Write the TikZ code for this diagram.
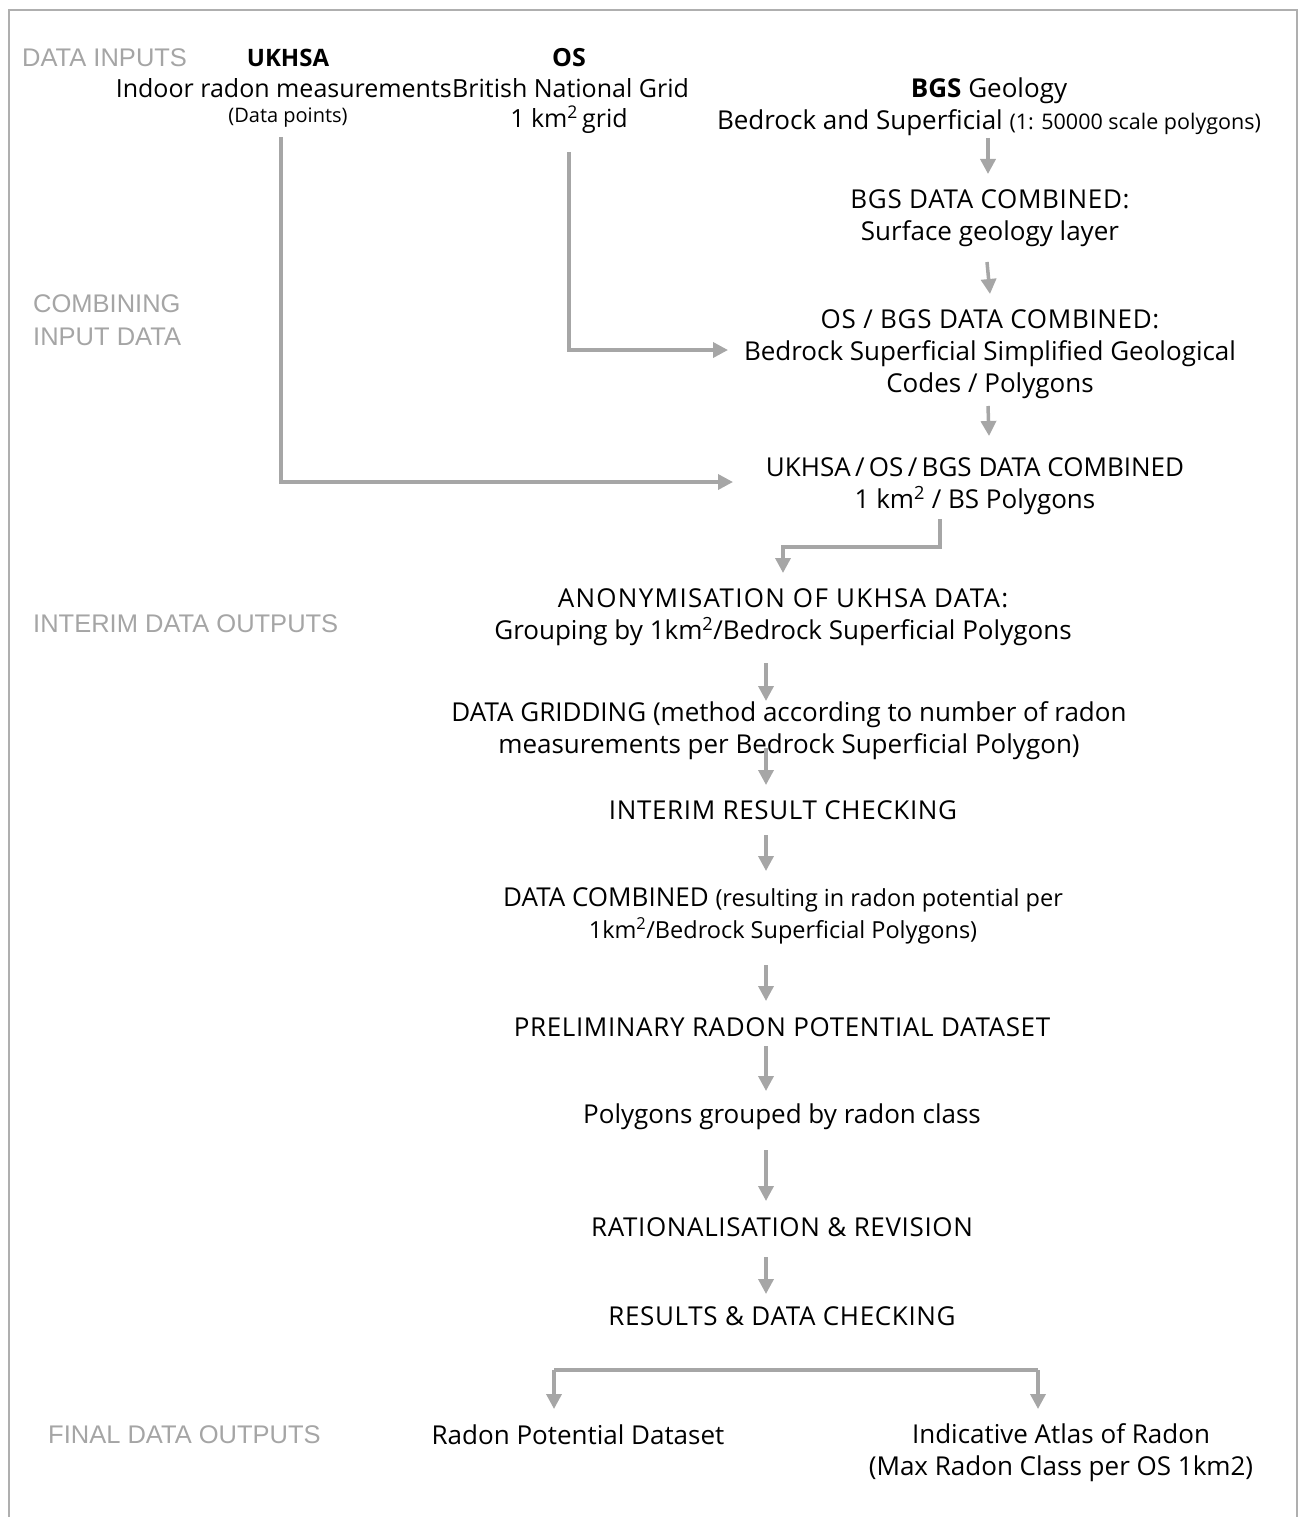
\documentclass[tikz,border=0pt]{standalone}
\usepackage{fontspec}
\setmainfont{Open Sans}
\newfontfamily\labfont{Liberation Sans}
\usetikzlibrary{arrows.meta}
\definecolor{linegray}{RGB}{166,166,166}
\definecolor{labgray}{RGB}{165,165,165}
\definecolor{framegray}{RGB}{175,175,175}
\tikzset{
  txt/.style={align=center, inner sep=0pt, font=\fontsize{25}{32}\selectfont, text=black},
  txtb/.style={align=center, inner sep=0pt, font=\fontsize{26}{32}\selectfont, text=black},
  lab/.style={align=left, inner sep=0pt, anchor=west, font=\labfont\fontsize{25.5}{33}\selectfont, text=labgray},
  arr/.style={draw=linegray, line width=3.5pt, -{Triangle[length=15pt,width=15pt]}},
  seg/.style={draw=linegray, line width=3.5pt},
}
\newcommand{\sm}[1]{{\fontsize{20}{32}\selectfont #1}}
\newcommand{\smb}[1]{{\fontsize{21.5}{32}\selectfont #1}}
\newcommand{\smm}[1]{{\fontsize{23.5}{32}\selectfont #1}}
\newcommand{\capsp}[1]{{\addfontfeature{LetterSpace=2.5}#1}}
\newcommand{\capspw}[1]{{\addfontfeature{LetterSpace=5}#1}}
\begin{document}
\begin{tikzpicture}[x=1pt,y=-1pt]
\useasboundingbox (0,0) rectangle (1306,1517);
% frame
\draw[framegray, line width=2.5pt] (9,1530) -- (9,10) -- (1297,10) -- (1297,1530);

% section labels
\node[lab] (l1) at (22,58) {DATA INPUTS};
\node[lab] (l2) at (33,320) {COMBINING\\INPUT DATA};
\node[lab] (l3) at (33,624) {INTERIM DATA OUTPUTS};
\node[lab] (l4) at (48,1435) {FINAL DATA OUTPUTS};

% inputs
\node[txt] (ukhsaT) at (288,58) {\fontsize{24}{32}\selectfont\textbf{UKHSA}};
\node[txt] (osT) at (569,58) {\textbf{OS}};
\node[txt, anchor=east] (ukhsa) at (452,88) {Indoor radon measurements};
\node[txt, anchor=west] (os) at (452,88) {British National Grid};
\node[txt] (ukhsaP) at (288,118) {\sm{(Data points)}};
\node[txt] (osG) at (569,120) {1 km\textsuperscript{2}\,grid};
\node[txtb] (bgs) at (989,107) {\textbf{BGS} Geology\\Bedrock and Superficial \smb{(1: 50000 scale polygons)}};

\node[txtb] (bgsc) at (990,218) {\capsp{BGS DATA COMBINED:}\\Surface geology layer};
\node[txtb] (osbgs) at (990,354) {\capsp{OS / BGS DATA COMBINED:}\\Bedrock Superficial Simplified Geological\\Codes / Polygons};
\node[txtb] (all) at (975,486) {UKHSA\,/\,OS\,/\,BGS DATA COMBINED\\1 km\textsuperscript{2} / BS Polygons};
\node[txtb] (anon) at (783,617) {\capspw{ANONYMISATION OF UKHSA DATA:}\\Grouping by 1km\textsuperscript{2}/Bedrock Superficial Polygons};
\node[txtb] (grid) at (789,731) {DATA GRIDDING (method according to number of radon\\measurements per Bedrock Superficial Polygon)};
\node[txtb] (check) at (783,810) {\capsp{INTERIM RESULT CHECKING}};
\node[txtb] (comb) at (783,916) {DATA COMBINED \smm{(resulting in radon potential per}\\\smm{1km\textsuperscript{2}/Bedrock Superficial Polygons)}};
\node[txtb] (prelim) at (782,1027) {\capsp{PRELIMINARY RADON POTENTIAL DATASET}};
\node[txtb] (poly) at (782,1117) {Polygons grouped by radon class};
\node[txtb] (rat) at (782,1227) {\capsp{RATIONALISATION \& REVISION}};
\node[txtb] (res) at (782,1316) {\capsp{RESULTS \& DATA CHECKING}};
\node[txtb] (rpd) at (578,1435) {Radon Potential Dataset};
\node[txtb] (atlas) at (1061,1453) {Indicative Atlas of Radon\\(Max Radon Class per OS 1km2)};

% connectors
\coordinate (c1a) at (988,138); \coordinate (c1b) at (988,174);
\draw[arr] (c1a) -- (c1b);
\coordinate (c2a) at (987,262); \coordinate (c2b) at (990,294);
\draw[arr] (c2a) -- (c2b);
\coordinate (c3a) at (988,406); \coordinate (c3b) at (989,436);
\draw[arr] (c3a) -- (c3b);
% OS to OS/BGS
\coordinate (osS) at (569,152); \coordinate (osE) at (728,350);
\draw[arr] (osS) |- (osE);
% UKHSA to all
\coordinate (ukS) at (281,137); \coordinate (ukE) at (733,482);
\draw[arr] (ukS) |- (ukE);
% all to anon
\coordinate (allS) at (940,519); \coordinate (allM) at (940,547); \coordinate (anonN) at (783,573);
\draw[arr] (allS) -- (allM) -| (anonN);
% vertical chain
\coordinate (d1a) at (766,663); \coordinate (d1b) at (766,701);
\draw[arr] (d1a) -- (d1b);
\coordinate (d2a) at (766,748); \coordinate (d2b) at (766,785);
\draw[arr] (d2a) -- (d2b);
\coordinate (d3a) at (766,835); \coordinate (d3b) at (766,871);
\draw[arr] (d3a) -- (d3b);
\coordinate (d4a) at (766,965); \coordinate (d4b) at (766,1001);
\draw[arr] (d4a) -- (d4b);
\coordinate (d5a) at (766,1046); \coordinate (d5b) at (766,1091);
\draw[arr] (d5a) -- (d5b);
\coordinate (d6a) at (766,1150); \coordinate (d6b) at (766,1201);
\draw[arr] (d6a) -- (d6b);
\coordinate (d7a) at (766,1257); \coordinate (d7b) at (766,1294);
\draw[arr] (d7a) -- (d7b);
% split
\coordinate (spL) at (554,1370); \coordinate (spR) at (1038,1370);
\coordinate (rpdN) at (554,1409); \coordinate (atlasN) at (1038,1409);
\draw[seg] (spL) -- (spR);
\draw[arr] (spL) -- (rpdN);
\draw[arr] (spR) -- (atlasN);
\end{tikzpicture}
\end{document}
